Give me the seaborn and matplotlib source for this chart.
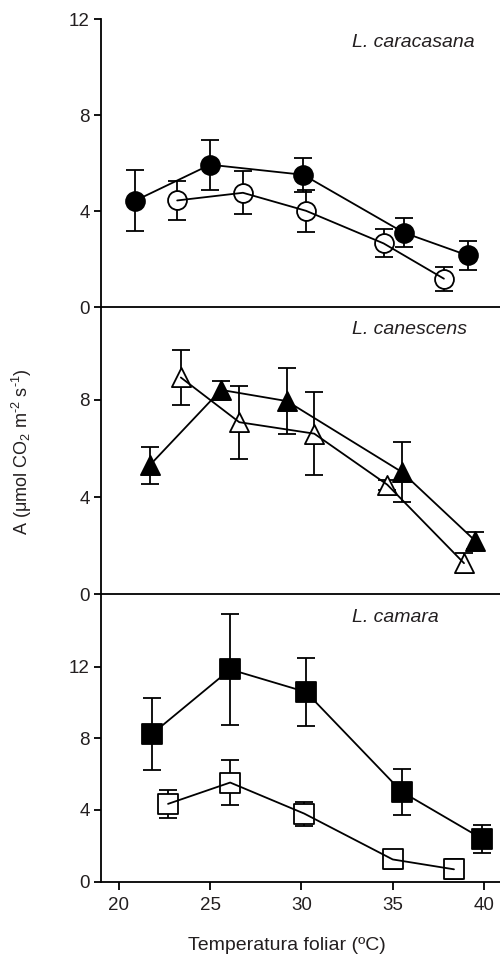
import numpy as np
import pandas as pd
import matplotlib
matplotlib.use("Agg")
import matplotlib.pyplot as plt
import seaborn as sns

# ---- data ----
species = ["L. caracasana", "L. canescens", "L. camara"]

car_fill_x = [20.9, 25.0, 30.1, 35.6, 39.1]
car_fill_y = [4.43, 5.93, 5.51, 3.10, 2.15]
car_fill_e = [1.26, 1.05, 0.70, 0.62, 0.60]
car_open_x = [23.2, 26.8, 30.25, 34.5, 37.8]
car_open_y = [4.44, 4.76, 4.01, 2.65, 1.18]
car_open_e = [0.82, 0.90, 0.87, 0.58, 0.50]

can_fill_x = [21.7, 25.6, 29.2, 35.5, 39.5]
can_fill_y = [5.31, 8.41, 7.95, 5.03, 2.21]
can_fill_e = [0.77, 0.36, 1.35, 1.22, 0.35]
can_open_x = [23.4, 26.6, 30.7, 34.7, 38.9]
can_open_y = [8.92, 7.08, 6.61, 4.51, 1.28]
can_open_e = [1.15, 1.50, 1.72, 0.20, 0.40]

cam_fill_x = [21.8, 26.1, 30.25, 35.5, 39.9]
cam_fill_y = [8.22, 11.84, 10.58, 5.01, 2.39]
cam_fill_e = [2.00, 3.10, 1.87, 1.29, 0.78]
cam_open_x = [22.7, 26.1, 30.15, 35.0, 38.35]
cam_open_y = [4.34, 5.53, 3.80, 1.24, 0.69]
cam_open_e = [0.76, 1.27, 0.67, 0.55, 0.55]

xticks = [20, 25, 30, 35, 40]

sns.set_style("ticks")
plt.rcParams['font.family'] = ['Liberation Sans', 'DejaVu Sans']
plt.rcParams['mathtext.fontset'] = 'custom'
plt.rcParams['mathtext.rm'] = 'Liberation Sans'
plt.rcParams['mathtext.it'] = 'Liberation Sans:italic'

TXT = '#231f20'

fig = plt.figure(figsize=(5.0, 9.57), dpi=100)
L, W = 0.202, 0.798
ax_top = fig.add_axes([L, 0.6792, W, 0.3009])
ax_mid = fig.add_axes([L, 0.3790, W, 0.3002])
ax_bot = fig.add_axes([L, 0.0787, W, 0.3003])

panels = [
    (ax_top, species[0], 'o', 185,
     (car_fill_x, car_fill_y, car_fill_e), (car_open_x, car_open_y, car_open_e),
     (0, 12), [0, 4, 8, 12]),
    (ax_mid, species[1], '^', 190,
     (can_fill_x, can_fill_y, can_fill_e), (can_open_x, can_open_y, can_open_e),
     (0, 11.82), [0, 4, 8]),
    (ax_bot, species[2], 's', 190,
     (cam_fill_x, cam_fill_y, cam_fill_e), (cam_open_x, cam_open_y, cam_open_e),
     (0, 16.03), [0, 4, 8, 12]),
]

for ax, name, mk, ms, fill, opn, ylim, yt in panels:
    for (xs, ys, es), face in [(fill, 'black'), (opn, 'white')]:
        df = pd.DataFrame({'x': xs, 'y': ys})
        ax.errorbar(xs, ys, yerr=es, fmt='none', ecolor='black',
                    elinewidth=1.3, capsize=6.5, capthick=1.3, zorder=1)
        sns.scatterplot(data=df, x='x', y='y', marker=mk, s=ms, color=face,
                        edgecolor='black', linewidth=1.3, ax=ax, zorder=2,
                        legend=False)
        sns.lineplot(data=df, x='x', y='y', color='black', linewidth=1.3,
                     ax=ax, zorder=3, legend=False, sort=False)
    ax.set_xlim(19.03, 40.87)
    ax.set_ylim(*ylim)
    ax.set_yticks(yt)
    ax.set_xlabel('')
    ax.set_ylabel('')
    for s in ['top', 'right']:
        ax.spines[s].set_visible(False)
    for s in ['left', 'bottom']:
        ax.spines[s].set_linewidth(1.3)
        ax.spines[s].set_color('black')
    ax.tick_params(axis='y', direction='out', length=5, width=1.3,
                   labelsize=13.5, colors='black', labelcolor=TXT, pad=3)
    ax.text(0.628, 0.92, name, transform=ax.transAxes, ha='left',
            va='center', fontsize=14, style='italic', color=TXT)
    ax.set_facecolor('none')

for ax in (ax_top, ax_mid):
    ax.tick_params(axis='x', bottom=False, labelbottom=False)

ax_bot.set_xticks(xticks)
ax_bot.tick_params(axis='x', direction='out', length=6, width=1.3,
                   labelsize=13.5, colors='black', labelcolor=TXT, pad=5)

fig.text(0.044, 0.528,
         r'A ($\mathregular{\mu}$mol CO$_\mathregular{2}$ m$^\mathregular{\text{-}2}$ s$^\mathregular{\text{-}1}$)',
         rotation=90, ha='center', va='center', fontsize=13, color=TXT)
fig.text(0.574, 0.0125, 'Temperatura foliar (ºC)', ha='center', va='center',
         fontsize=14, color=TXT)

fig.savefig('out.png', dpi=100)
